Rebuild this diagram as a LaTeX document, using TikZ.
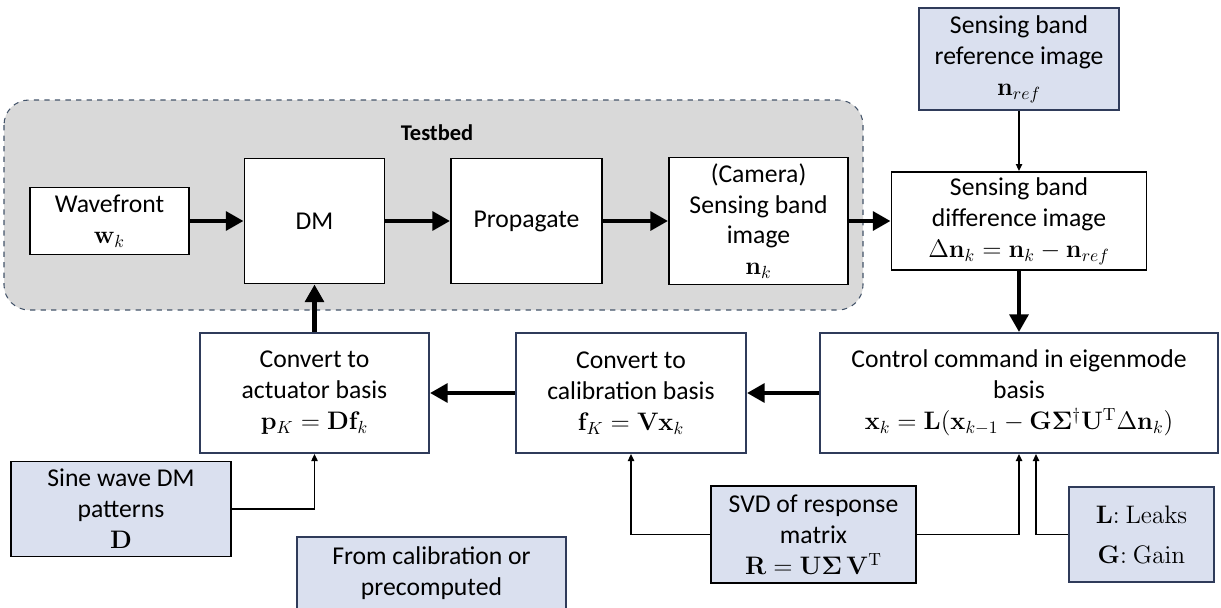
\documentclass[tikz,border=0pt]{standalone}
\usepackage{amsmath}
\usepackage{amssymb}
\usepackage{bm}
\usepackage[no-math]{fontspec}
\setmainfont{Carlito}
\usepackage[HTML]{xcolor}
\usetikzlibrary{positioning, arrows.meta}

\definecolor{givenfill}{HTML}{DAE0EF}
\definecolor{bedfill}{HTML}{D9D9D9}
\definecolor{bededge}{HTML}{44546A}
\definecolor{slate}{HTML}{2F3B5A}

\tikzset{
  block/.style={draw=black, line width=1.1pt, fill=white, align=center,
    inner sep=1pt, font=\fontsize{14.6}{17.6}\selectfont},
  stage/.style={block, draw=slate},
  given/.style={block, fill=givenfill},
  flow/.style={line width=2.8pt, -{Triangle[length=10pt,width=10.5pt]}},
  feed/.style={line width=1.1pt, -{Triangle[length=4pt,width=3.5pt]}},
}

\begin{document}
\begin{tikzpicture}
\useasboundingbox (0,0) rectangle (24.42,12.14);
% testbed frame
\draw[bededge, fill=bedfill, dashed, line width=0.6pt, rounded corners=0.5cm]
  (0.08,10.14) rectangle (17.26,5.94);
\node[font=\fontsize{12.8}{15}\selectfont\bfseries] (bed) at (8.74,9.48) {Testbed};

% forward path
\node[block, minimum width=3.18cm, minimum height=1.34cm] (wave) at (2.19,7.72) {Wavefront\\$\mathbf{w}_k$};
\node[block, minimum width=2.8cm, minimum height=2.5cm] (dm) at (6.29,7.72) {DM};
\node[block, minimum width=3.02cm, minimum height=2.5cm] (prop) at (10.53,7.72) {Propagate};
\node[block, minimum width=3.58cm, minimum height=2.54cm] (cam) at (15.17,7.72) {(Camera)\\Sensing band\\image\\$\mathbf{n}_k$};
\node[block, minimum width=5.1cm, minimum height=1.96cm] (diff) at (20.38,7.72) {Sensing band\\difference image\\$\Delta\mathbf{n}_k=\mathbf{n}_k-\mathbf{n}_{ref}$};
\node[given, draw=slate, minimum width=4.0cm, minimum height=2.04cm] (ref) at (20.38,10.96) {Sensing band\\reference image\\$\mathbf{n}_{ref}$};

% feedback path
\node[stage, minimum width=7.96cm, minimum height=2.4cm] (ctrl) at (20.38,4.28) {Control command in eigenmode\\basis\\$\mathbf{x}_k=\mathbf{L}(\mathbf{x}_{k-1}-\mathbf{G}\boldsymbol{\Sigma}^{\dagger}\mathbf{U}^{\mathrm{T}}\Delta\mathbf{n}_k)$};
\node[stage, minimum width=4.6cm, minimum height=2.4cm] (calib) at (12.62,4.28) {Convert to\\calibration basis\\$\mathbf{f}_K=\mathbf{V}\mathbf{x}_k$};
\node[stage, minimum width=4.58cm, minimum height=2.4cm] (act) at (6.29,4.28) {Convert to\\actuator basis\\$\mathbf{p}_K=\mathbf{D}\mathbf{f}_k$};

% precomputed inputs
\node[given, minimum width=4.4cm, minimum height=1.9cm] (sine) at (2.42,1.96) {Sine wave DM\\patterns\\$\mathbf{D}$};
\node[given, minimum width=4.1cm, minimum height=1.94cm] (svd) at (16.27,1.45) {SVD of response\\matrix\\$\mathbf{R}=\mathbf{U}\boldsymbol{\Sigma}\,\mathbf{V}^{\mathrm{T}}$};
\node[given, draw=slate, minimum width=2.9cm, minimum height=1.9cm] (lg) at (22.83,1.45) {$\mathbf{L}{:}\ \mathrm{Leaks}$\\[5pt]$\mathbf{G}{:}\ \mathrm{Gain}$};
\filldraw[given, draw=slate] (5.94,1.4) rectangle (11.32,-0.6);
\node[align=center, font=\fontsize{14.6}{17.6}\selectfont] (src) at (8.63,0.68) {From calibration or\\precomputed};

\draw[flow] (wave) -- (dm);
\draw[flow] (dm) -- (prop);
\draw[flow] (prop) -- (cam);
\draw[flow] (cam) -- (diff);
\draw[flow] (diff) -- (ctrl);
\draw[flow] (ctrl) -- (calib);
\draw[flow] (calib) -- (act);
\draw[flow] (act) -- (dm);

\draw[feed] (ref) -- (diff);
\draw[feed] (sine.east) -| (act.south);
\draw[feed] (svd.west) -| (calib.south);
\draw[feed] (svd.east) -| (ctrl.south);
\draw[feed] (lg.west) -| ([xshift=0.34cm]ctrl.south);
\end{tikzpicture}
\end{document}
